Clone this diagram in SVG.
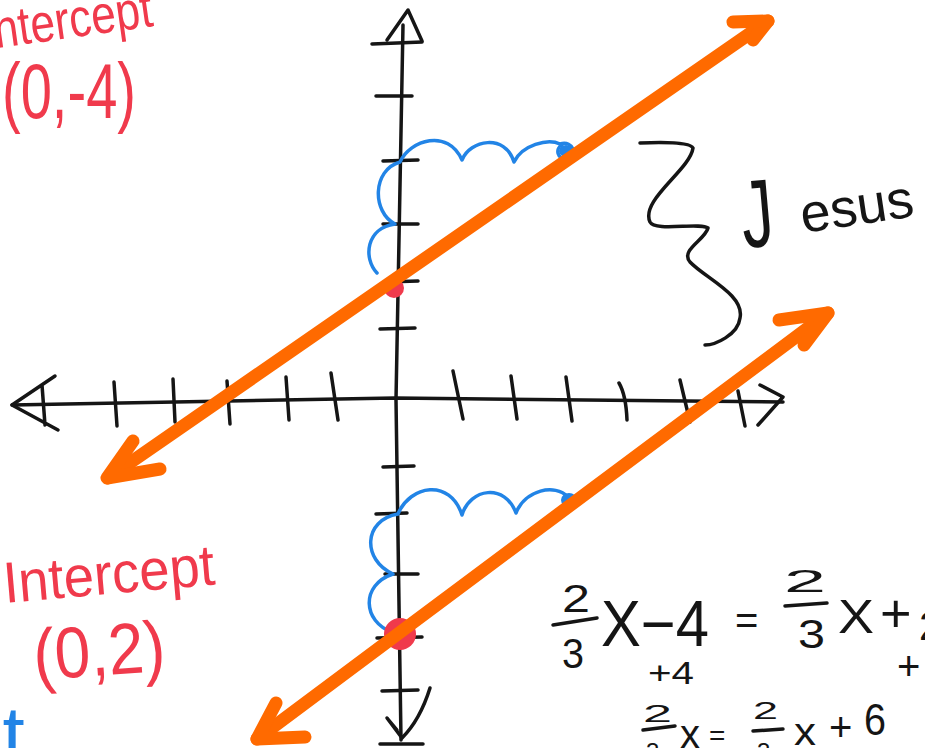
<svg xmlns="http://www.w3.org/2000/svg" width="925" height="748" viewBox="0 0 925 748">
<style>
.ax{fill:none;stroke:#151515;stroke-width:3.5;stroke-linecap:round;stroke-linejoin:round}
.bl{fill:none;stroke:#2284E6;stroke-width:3.5;stroke-linecap:round;stroke-linejoin:round}
.or{fill:none;stroke:#FF6A00;stroke-width:13;stroke-linecap:round;stroke-linejoin:round}
.dot{fill:#F03A4C}
.bdot{fill:#2284E6}
.t{font-family:"Liberation Sans",Arial,sans-serif}
.k{fill:#151515}
.r{fill:#F03A4C}
.b{fill:#2284E6}
</style>
<rect width="925" height="748" fill="#ffffff"/>

<g id="axes">
  <path class="ax" d="M403 25 L396 400 L401 740"/>
  <path class="ax" d="M387 40 L408 10 L422 41"/>
  <path class="ax" d="M372 44 L422 42"/>
  <path class="ax" d="M376 96 L412 96 M383 161 L418 160 M383 224 L418 224 M385 282 L418 281 M380 329 L415 328 M383 467 L414 466 M376 514 L407 513 M385 574 L418 574 M377 638 L422 637 M382 691 L418 690 M380 744 L423 744"/>
  <path class="ax" d="M430 688 Q420 720 402 738 L387 718 L397 730"/>
  <path class="ax" d="M12 405 L395 398 L783 402"/>
  <path class="ax" d="M55 376 L12 405 L58 430 M42 385 L45 425"/>
  <path class="ax" d="M114 382 L117 426 M173 379 L175 422 M227 381 L230 424 M286 377 L289 420 M331 373 L338 420"/>
  <path class="ax" d="M453 371 L463 419 M511 376 L517 419 M566 377 L572 421 M619 383 Q626 395 627 420 M680 380 L690 422 M738 391 L745 426"/>
  <path class="ax" d="M760 385 L783 397 L758 425"/>
</g>

<g id="jesus-brace">
  <path class="ax" d="M640 143 C660 142 690 142 693 148 C690 170 640 200 650 222 C655 232 700 222 708 228 C705 240 680 250 690 262 C705 278 745 295 740 318 C738 335 715 345 705 345"/>
  <text class="t k" x="0" y="0" font-size="64" transform="translate(744 248) rotate(-5) scale(1 1.5)">J</text>
  <text class="t k" x="803" y="233" font-size="54" textLength="114" lengthAdjust="spacingAndGlyphs" transform="rotate(-8.5 803 233)">esus</text>
</g>

<g id="slope-upper">
  <path class="bl" d="M377 273 C363 258 366 228 395 224 C372 212 372 170 400 162 C410 140 448 128 462 160 C470 140 505 133 514 162 C522 145 548 138 560 144 C574 140 578 156 567 159 C557 160 555 148 562 145"/>
  <ellipse class="bdot" cx="566" cy="151" rx="7" ry="6"/>
</g>

<g id="slope-lower">
  <path class="bl" d="M392 632 C363 622 360 585 393 574 C362 560 363 520 398 514 C410 485 450 478 462 515 C470 488 505 483 516 513 C525 490 555 483 568 497"/>
  <ellipse class="bdot" cx="569" cy="500" rx="8" ry="7"/>
</g>

<g id="intercepts">
  <circle class="dot" cx="394" cy="288" r="10"/>
  <circle class="dot" cx="400" cy="634" r="16"/>
</g>

<g id="lines">
  <path class="or" d="M108 478 L768 21"/>
  <path class="or" d="M133 441 L107 478 L160 469"/>
  <path class="or" d="M733 22 L768 21 L753 40"/>
  <path class="or" d="M257 739 L828 313"/>
  <path class="or" d="M276 703 L257 739 L305 737"/>
  <path class="or" d="M779 320 L828 313 L804 345"/>
</g>

<g id="label-top">
  <text class="t r" x="-16" y="50" font-size="54" textLength="172" lengthAdjust="spacingAndGlyphs" transform="rotate(-8 -16 50)">Intercept</text>
  <text class="t r" x="2" y="118" font-size="78" textLength="134" lengthAdjust="spacingAndGlyphs">(0,-4)</text>
</g>

<g id="label-bottom">
  <text class="t r" x="5" y="603" font-size="58" textLength="212" lengthAdjust="spacingAndGlyphs" transform="rotate(-5 5 603)">Intercept</text>
  <text class="t r" x="35" y="680" font-size="72" textLength="132" lengthAdjust="spacingAndGlyphs" transform="rotate(-4 35 680)">(0,2)</text>
  <text class="t b" x="-42" y="762" font-size="80">nt</text>
</g>

<g id="equation">
  <text class="t k" x="562" y="612" font-size="38" textLength="28" lengthAdjust="spacingAndGlyphs">2</text>
  <path class="ax" d="M553 625 L597 618"/>
  <text class="t k" x="562" y="668" font-size="42" textLength="22" lengthAdjust="spacingAndGlyphs">3</text>
  <text class="t k" x="601" y="646" font-size="64" textLength="108" lengthAdjust="spacingAndGlyphs">X−4</text>
  <text class="t k" x="735" y="634" font-size="40">=</text>
  <text class="t k" x="784" y="592" font-size="32" textLength="42" lengthAdjust="spacingAndGlyphs">2</text>
  <path class="ax" d="M785 606 L827 603"/>
  <text class="t k" x="798" y="648" font-size="40" textLength="27" lengthAdjust="spacingAndGlyphs">3</text>
  <text class="t k" x="838" y="633" font-size="48" textLength="36" lengthAdjust="spacingAndGlyphs">X</text>
  <text class="t k" x="880" y="632" font-size="54">+</text>
  <text class="t k" x="919" y="640" font-size="40">2</text>
  <text class="t k" x="648" y="684" font-size="32" textLength="46" lengthAdjust="spacingAndGlyphs">+4</text>
  <text class="t k" x="897" y="680" font-size="40">+</text>
  <text class="t k" x="643" y="722" font-size="24" textLength="29" lengthAdjust="spacingAndGlyphs">2</text>
  <path class="ax" d="M643 730 L675 726"/>
  <text class="t k" x="646" y="760" font-size="24">3</text>
  <text class="t k" x="680" y="748" font-size="40" textLength="20" lengthAdjust="spacingAndGlyphs">x</text>
  <text class="t k" x="709" y="745" font-size="28">=</text>
  <text class="t k" x="753" y="719" font-size="24" textLength="25" lengthAdjust="spacingAndGlyphs">2</text>
  <path class="ax" d="M753 731 L783 729"/>
  <text class="t k" x="757" y="760" font-size="24">3</text>
  <text class="t k" x="794" y="745" font-size="38" textLength="22" lengthAdjust="spacingAndGlyphs">x</text>
  <text class="t k" x="829" y="741" font-size="40">+</text>
  <text class="t k" x="864" y="735" font-size="44" textLength="22" lengthAdjust="spacingAndGlyphs">6</text>
</g>
</svg>
